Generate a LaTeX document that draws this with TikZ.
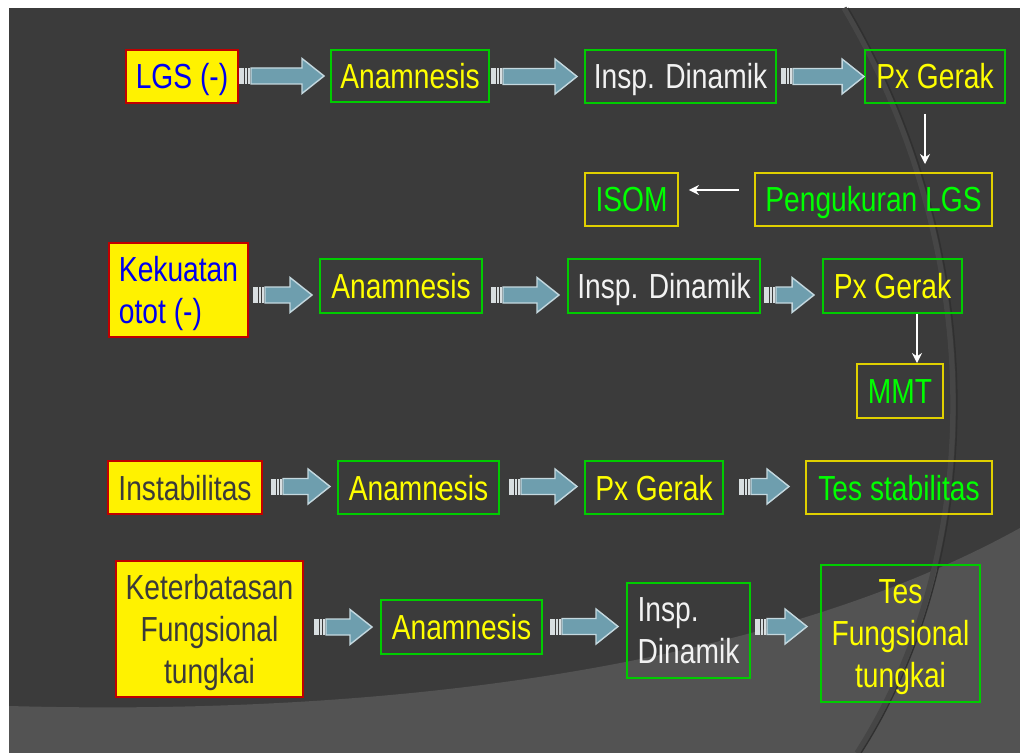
\documentclass[tikz,border=0pt]{standalone}
\usepackage{fontspec}
\setmainfont[FakeStretch=0.81]{Liberation Sans}
\usetikzlibrary{calc,arrows.meta}

\definecolor{slide}{HTML}{3B3B3B}
\definecolor{slidelow}{HTML}{535353}
\definecolor{arcline}{HTML}{303030}
\definecolor{archigh}{HTML}{464646}
\definecolor{boxred}{HTML}{C00000}
\definecolor{boxgreen}{HTML}{00CC00}
\definecolor{boxyellow}{HTML}{E0D000}
\definecolor{txtyellow}{HTML}{FFFF00}
\definecolor{txtgreen}{HTML}{00FF00}
\definecolor{txtblue}{HTML}{0000EE}
\definecolor{txtdark}{HTML}{3A3A3A}
\definecolor{txtwhite}{HTML}{F2F2F2}
\definecolor{arrowfill}{HTML}{6E9EAE}
\definecolor{arrowedge}{HTML}{C4D8DF}
\definecolor{arrowtail}{HTML}{D8DEE0}

\def\px{0.02cm}

\tikzset{
  sz/.style 2 args={minimum width=#1*\px, minimum height=#2*\px},
  every node/.style={inner sep=0pt, font=\fontsize{19.8}{24}\selectfont},
  oneline/.style={text height=0.5cm, text depth=0pt},
  srcbox/.style={fill=yellow, draw=boxred, line width=1.1pt, text=txtdark},
  stepbox/.style={draw=boxgreen, line width=1.1pt, text=txtyellow},
  endbox/.style={draw=boxyellow, line width=1.1pt, text=txtgreen},
  thinarrow/.style={draw=white, line width=0.85pt, -{Stealth[length=2mm,width=2mm]}},
  arrowbody/.style={fill=arrowfill, draw=arrowedge, line width=0.8pt, line join=miter}
}

% block arrow: [y offset] source, target, gap at source, gap at target (px)
\newcommand{\fatarrow}[5][0]{%
  \coordinate (aS) at ($(#2.east |- #3.west)+(#4,#1)$);
  \coordinate (aE) at ($(#3.west)+(-#5,#1)$);
  \foreach \a/\b in {0/5, 6/8, 9/11}
    \fill[arrowtail] ($(aS)+(\a,-8)$) rectangle ($(aS)+(\b,8)$);
  \draw[arrowbody] ($(aS)+(12,-8)$) -- ($(aE)+(-22,-8)$) -- ($(aE)+(-22,-17.5)$) -- (aE)
    -- ($(aE)+(-22,17.5)$) -- ($(aE)+(-22,8)$) -- ($(aS)+(12,8)$) -- cycle;
}

\begin{document}
\begin{tikzpicture}[x=\px, y=-\px]
 \useasboundingbox (0,0) rectangle (1020,753);

 % slide background
 \fill[white] (0,0) rectangle (1020,753);
 \fill[slide] (9,8) rectangle (1020,753);
 \fill[slidelow] (9,706) .. controls (450,718) and (800,650) .. (1020,528) -- (1020,753) -- (9,753) -- cycle;
 \draw[archigh, line width=3pt] (844,8) .. controls (987,250) and (987,550) .. (857,753);
 \draw[arcline, line width=0.8pt] (848,8) .. controls (991,250) and (991,550) .. (861,753);

 % row 1
 \node[srcbox, sz={112}{53}, oneline, text=txtblue] (lgs) at (182,76.5) {LGS (-)};
 \node[stepbox, sz={158}{52}, oneline] (ana1) at (410,76) {Anamnesis};
 \node[stepbox, sz={191}{53}, oneline, text=txtwhite] (insp1) at (680.5,76.5) {Insp. Dinamik};
 \node[stepbox, sz={140}{53}, oneline] (pxg1) at (935,76.5) {Px Gerak};
 \node[endbox, sz={237}{53}, oneline] (peng) at (873.5,199.5) {Pengukuran LGS};
 \node[endbox, sz={93}{53}, oneline] (isom) at (631.5,199.5) {ISOM};

 \fatarrow{lgs}{ana1}{0}{6}
 \fatarrow{ana1}{insp1}{1}{7}
 \fatarrow{insp1}{pxg1}{4}{0}

 \coordinate (d1) at ([xshift=-10*\px]pxg1.south);
 \draw[thinarrow, shorten <=10*\px, shorten >=8*\px] (d1) -- (d1 |- peng.north);
 \coordinate (l1) at ([yshift=9.5*\px]peng.west);
 \draw[thinarrow, shorten <=15*\px, shorten >=10*\px] (l1) -- (l1 -| isom.east);

 % row 2
 \node[srcbox, sz={139}{94}, align=left, text depth=0pt, text=txtblue] (kek) at (178.5,290) {Kekuatan\\otot (-)};
 \node[stepbox, sz={162}{54}, oneline] (ana2) at (401,286) {Anamnesis};
 \node[stepbox, sz={192}{54}, oneline, text=txtwhite] (insp2) at (664,286) {Insp. Dinamik};
 \node[stepbox, sz={139}{54}, oneline] (pxg2) at (892.5,286) {Px Gerak};
 \node[endbox, sz={86}{54}, oneline] (mmt) at (900,391) {MMT};

 \fatarrow[9]{kek}{ana2}{4}{7}
 \fatarrow[9]{ana2}{insp2}{8}{8}
 \fatarrow[9]{insp2}{pxg2}{3}{8}

 \coordinate (d2) at ([xshift=24.5*\px]pxg2.south);
 \draw[thinarrow] (d2) -- (d2 |- mmt.north);

 % row 3
 \node[srcbox, sz={154}{53}, oneline] (inst) at (185,487.5) {Instabilitas};
 \node[stepbox, sz={161}{53}, oneline] (ana3) at (418.5,487.5) {Anamnesis};
 \node[stepbox, sz={138}{53}, oneline] (pxg3) at (654,487.5) {Px Gerak};
 \node[endbox, sz={186}{53}, oneline] (tesst) at (899,487.5) {Tes stabilitas};

 \fatarrow[-1]{inst}{ana3}{8}{7}
 \fatarrow[-1]{ana3}{pxg3}{9}{7}
 \fatarrow[-1]{pxg3}{tesst}{15}{16}

 % row 4
 \node[srcbox, sz={187}{136}, align=center, text depth=0pt] (ket) at (209.5,629) {Keterbatasan\\Fungsional\\tungkai};
 \node[stepbox, sz={161}{54}, oneline] (ana4) at (461.5,627) {Anamnesis};
 \node[stepbox, sz={123}{95}, align=left, text=txtwhite] (insp4) at (688.5,630.5) {Insp.\\Dinamik};
 \node[stepbox, sz={159}{137}, align=center, text depth=0pt] (tesfu) at (900.5,633.5) {Tes\\Fungsional\\tungkai};

 \fatarrow{ket}{ana4}{10}{8}
 \fatarrow[-4]{ana4}{insp4}{7}{8}
 \fatarrow[-7]{insp4}{tesfu}{4}{13}
\end{tikzpicture}
\end{document}
